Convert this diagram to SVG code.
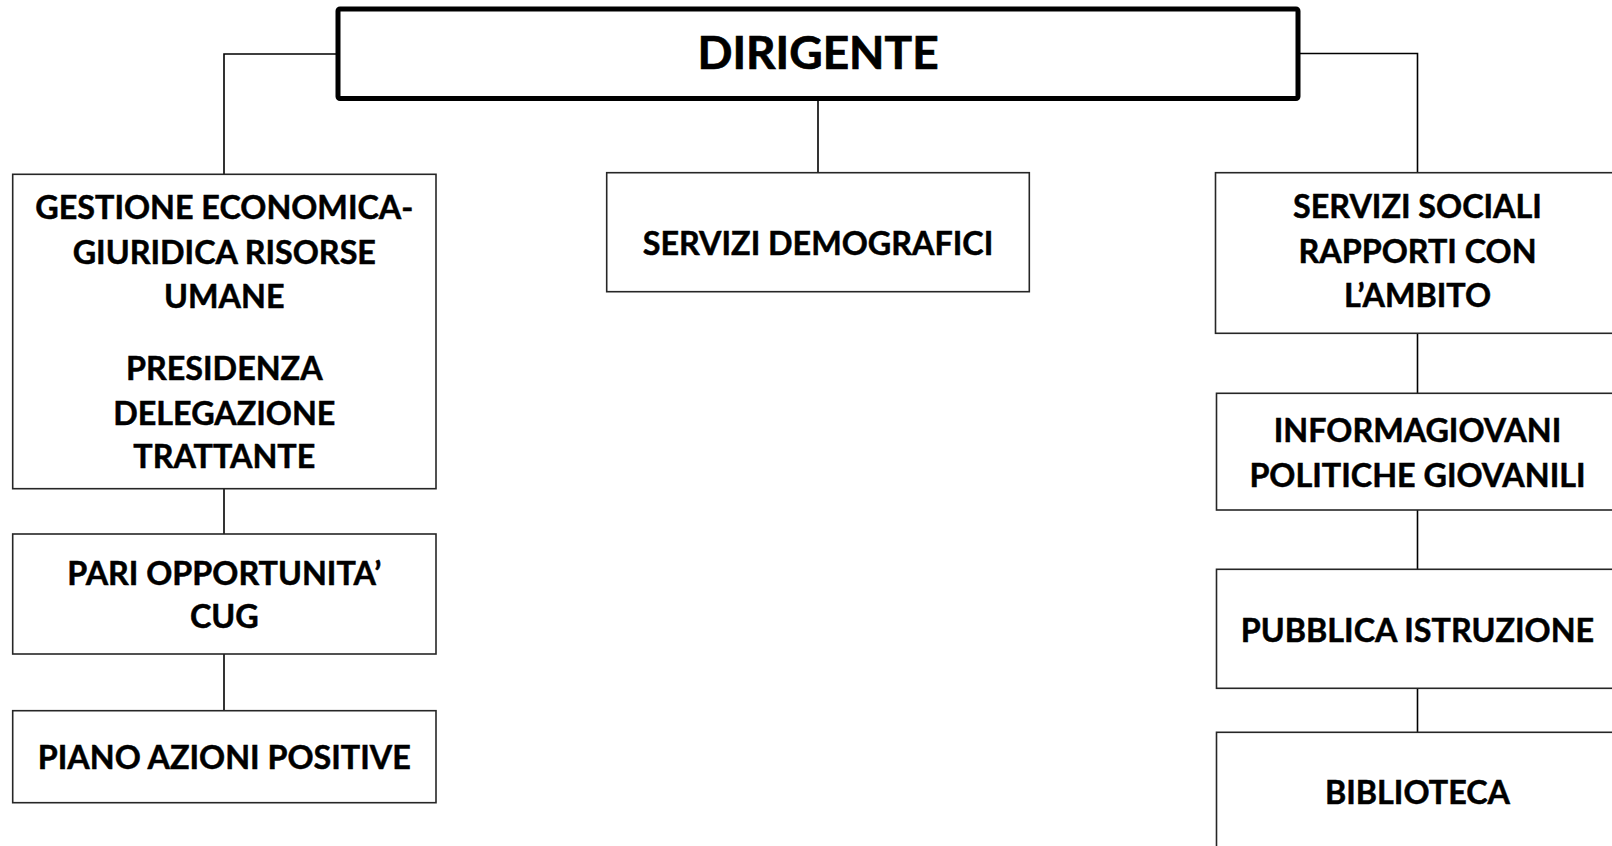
<svg xmlns="http://www.w3.org/2000/svg" width="1612" height="846" viewBox="0 0 1612 846">
<style>
  .box { fill: #ffffff; stroke: #262626; stroke-width: 1.6; }
  .main { fill: #ffffff; stroke: #000000; stroke-width: 5; }
  .conn { fill: none; stroke: #000000; stroke-width: 1.6; }
  text { font-family: Lato, "Liberation Sans", sans-serif; font-weight: bold; fill: #000000; stroke: #000000; stroke-width: 0.5; text-anchor: middle; font-size: 32.3px; }
  .title { font-size: 46px; stroke-width: 0.7; }
</style>
<rect width="1612" height="846" fill="#ffffff"/>
<g id="connectors">
  <polyline class="conn" points="338,54 224,54 224,174"/>
  <polyline class="conn" points="1298,53.5 1417.5,53.5 1417.5,173"/>
  <line class="conn" x1="818" y1="100" x2="818" y2="173"/>
  <line class="conn" x1="224" y1="488.7" x2="224" y2="534"/>
  <line class="conn" x1="224" y1="654" x2="224" y2="710.7"/>
  <line class="conn" x1="1417.5" y1="333.3" x2="1417.5" y2="393.3"/>
  <line class="conn" x1="1417.5" y1="510" x2="1417.5" y2="569.3"/>
  <line class="conn" x1="1417.5" y1="688.3" x2="1417.5" y2="732.3"/>
</g>
<g id="dirigente">
  <rect class="main" x="338" y="9" width="960" height="89.5" rx="2"/>
  <text class="title" x="818" y="69">DIRIGENTE</text>
</g>
<g id="gestione">
  <rect class="box" x="12.7" y="174.3" width="423.3" height="314.4"/>
  <text x="224.3" y="219.3">GESTIONE ECONOMICA-</text>
  <text x="224.3" y="264">GIURIDICA RISORSE</text>
  <text x="224.3" y="308.3">UMANE</text>
  <text x="224.3" y="380">PRESIDENZA</text>
  <text x="224.3" y="425">DELEGAZIONE</text>
  <text x="224.3" y="468.3">TRATTANTE</text>
</g>
<g id="pari-opportunita">
  <rect class="box" x="12.7" y="534" width="423.3" height="120"/>
  <text x="224.3" y="585">PARI OPPORTUNITA’</text>
  <text x="224.3" y="628.3">CUG</text>
</g>
<g id="piano-azioni">
  <rect class="box" x="12.7" y="710.7" width="423.3" height="92"/>
  <text x="224.3" y="769">PIANO AZIONI POSITIVE</text>
</g>
<g id="servizi-demografici">
  <rect class="box" x="606.7" y="172.7" width="422.6" height="119"/>
  <text x="818" y="255">SERVIZI DEMOGRAFICI</text>
</g>
<g id="servizi-sociali">
  <rect class="box" x="1215.5" y="172.7" width="404" height="160.6"/>
  <text x="1417.5" y="218.3">SERVIZI SOCIALI</text>
  <text x="1417.5" y="263.3">RAPPORTI CON</text>
  <text x="1417.5" y="306.7">L’AMBITO</text>
</g>
<g id="informagiovani">
  <rect class="box" x="1216.5" y="393.3" width="404" height="116.7"/>
  <text x="1417.5" y="441.7">INFORMAGIOVANI</text>
  <text x="1417.5" y="486.7">POLITICHE GIOVANILI</text>
</g>
<g id="pubblica-istruzione">
  <rect class="box" x="1216.5" y="569.3" width="404" height="119"/>
  <text x="1417.5" y="642.3">PUBBLICA ISTRUZIONE</text>
</g>
<g id="biblioteca">
  <rect class="box" x="1216.5" y="732.3" width="404" height="140"/>
  <text x="1417.5" y="804">BIBLIOTECA</text>
</g>
</svg>
